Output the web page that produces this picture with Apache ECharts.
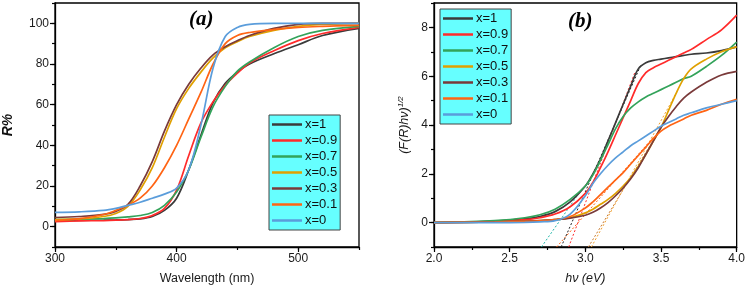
<!DOCTYPE html>
<html>
<head>
<meta charset="utf-8">
<script src="https://cdn.jsdelivr.net/npm/echarts@6/dist/echarts.min.js"></script>
<style>html,body{margin:0;padding:0;background:#fff}#c{width:748px;height:290px}</style>
</head>
<body>
<div id="c"></div>
<script>
// ---------- data ----------
const seriesNames = ['x=1', 'x=0.9', 'x=0.7', 'x=0.5', 'x=0.3', 'x=0.1', 'x=0'];

// Panel (a): reflectance vs wavelength
const wavelength = [300, 320, 340, 350, 360, 370, 380, 390, 400, 410, 420, 430, 440, 450, 460, 480, 500, 520, 550];
const R_x1   = [3, 3.1, 3.2, 3.3, 3.5, 3.8, 5, 8, 14, 28, 45, 61, 70.5, 76, 80, 85, 89.5, 94, 97.5];
const R_x09  = [2.5, 2.8, 3, 3.2, 3.5, 4, 5.5, 9, 18, 35, 51, 61.5, 69.5, 75.5, 80.5, 86.5, 91.5, 95, 98];
const R_x07  = [3.5, 3.7, 4, 4.3, 4.8, 5.5, 7, 10.5, 17, 28, 44, 59, 69, 76.5, 81, 88, 93.5, 96.5, 98.5];
const R_x05  = [3.5, 3.8, 5, 6.5, 10, 18, 29, 44, 58, 68, 76, 83, 88, 91, 93.5, 96.5, 98.5, 99.5, 100];
const R_x03  = [4.5, 5, 6, 7.5, 11, 20, 32, 47, 60, 70, 78, 84.5, 88.5, 91.5, 94, 97.5, 99.5, 100, 100];
const R_x01  = [3, 4, 6, 8, 10.5, 14, 20, 29, 40, 53, 66, 80, 90, 94, 95.5, 97, 98, 98.5, 99];
const R_x0   = [7, 7.3, 8, 9, 10.5, 12, 14, 16, 19, 28, 50, 78, 93.5, 98, 99.5, 100, 100, 100, 100];

// Panel (b): Kubelka-Munk (F(R)hv)^1/2 vs photon energy
const energy = [2.0, 2.2, 2.4, 2.6, 2.7, 2.8, 2.9, 3.0, 3.05, 3.1, 3.15, 3.2, 3.25, 3.3, 3.35, 3.4, 3.45, 3.5, 3.55, 3.6, 3.65, 3.7, 3.8, 3.9, 4.0];
const K_x1  = [0, 0.02, 0.06, 0.15, 0.25, 0.45, 0.85, 1.5, 2.0, 2.6, 3.35, 4.1, 4.85, 5.6, 6.3, 6.55, 6.65, 6.7, 6.75, 6.8, 6.85, 6.9, 6.95, 7.05, 7.2];
const K_x09 = [0, 0.02, 0.05, 0.12, 0.2, 0.35, 0.65, 1.2, 1.65, 2.25, 2.9, 3.6, 4.3, 5.0, 5.7, 6.15, 6.35, 6.5, 6.65, 6.8, 6.95, 7.1, 7.5, 7.9, 8.5];
const K_x07 = [0, 0.03, 0.08, 0.2, 0.32, 0.55, 0.95, 1.5, 1.95, 2.55, 3.2, 3.85, 4.35, 4.7, 4.95, 5.15, 5.3, 5.45, 5.6, 5.75, 5.9, 6.0, 6.4, 6.85, 7.4];
const K_x05 = [0, 0.01, 0.03, 0.06, 0.08, 0.12, 0.2, 0.4, 0.55, 0.75, 0.95, 1.2, 1.5, 1.85, 2.3, 2.8, 3.35, 3.9, 4.6, 5.3, 5.9, 6.3, 6.7, 7.0, 7.2];
const K_x03 = [0, 0.01, 0.03, 0.06, 0.08, 0.12, 0.18, 0.3, 0.42, 0.6, 0.82, 1.1, 1.42, 1.8, 2.25, 2.8, 3.35, 3.9, 4.35, 4.75, 5.1, 5.35, 5.75, 6.05, 6.2];
const K_x01 = [0, 0.01, 0.02, 0.05, 0.07, 0.12, 0.25, 0.6, 0.85, 1.15, 1.45, 1.75, 2.05, 2.4, 2.75, 3.1, 3.45, 3.75, 3.95, 4.1, 4.25, 4.4, 4.6, 4.85, 5.05];
const K_x0  = [0, 0, 0, 0.01, 0.03, 0.08, 0.35, 1.1, 1.6, 2.0, 2.35, 2.65, 2.9, 3.15, 3.35, 3.55, 3.75, 3.95, 4.1, 4.25, 4.4, 4.5, 4.7, 4.85, 5.0];

// Tangent (band-gap extrapolation) lines: [x, y] end points
const tan_teal  = [[2.71, -1], [2.98, 1.4]];
const tan_x01   = [[2.81, -1], [3.45, 3.5]];
const tan_x1    = [[2.84, -1], [3.37, 6.5]];
const tan_x09   = [[2.89, -1], [3.33, 6.2]];
const tan_x03   = [[3.02, -1], [3.5, 3.9]];
const tan_x05   = [[3.04, -1], [3.6, 5.3]];

// Tick labels (major ticks)
const xTicksA = [300, 400, 500];
const yTicksA = [0, 20, 40, 60, 80, 100];
const xTicksB = [2.0, 2.5, 3.0, 3.5, 4.0];
const yTicksB = [0, 2, 4, 6, 8];

// ---------- chart ----------
const colors = ['#3b3b3b', '#ff2b2b', '#33a35a', '#e0a000', '#7a3a3a', '#ff6414', '#5b9ddb'];
const Rsets = [R_x1, R_x09, R_x07, R_x05, R_x03, R_x01, R_x0];
const Ksets = [K_x1, K_x09, K_x07, K_x05, K_x03, K_x01, K_x0];
const zip = (xs, ys) => xs.map((x, i) => [x, ys[i]]);
const near = (v, arr) => arr.some(t => Math.abs(t - v) < 1e-6);

const FONT = 'Liberation Sans, Arial, sans-serif';
const axisCommon = {
  axisLine: {onZero: false, lineStyle: {color: '#000', width: 1.3}},
  axisTick: {inside: false, length: 3, lineStyle: {color: '#000', width: 1.2}},
  splitLine: {show: false},
  axisLabel: {color: '#1a1a1a', fontSize: 12, fontFamily: FONT}
};
// overlay axes carrying only the longer major ticks
const majorAxis = (gridIndex, min, max, vals, pos) => ({
  gridIndex, type: 'value', min, max, position: pos, offset: 0,
  axisLine: {show: false, onZero: false}, splitLine: {show: false}, axisLabel: {show: false},
  axisTick: {show: true, inside: false, length: 5, customValues: vals, lineStyle: {color: '#000', width: 1.2}}
});

const series = [];
seriesNames.forEach((n, i) => {
  series.push({
    name: n, type: 'line', xAxisIndex: 0, yAxisIndex: 0, showSymbol: false, symbol: 'none',
    smooth: 0.35, data: zip(wavelength, Rsets[i]),
    lineStyle: {color: colors[i], width: 1.7}, itemStyle: {color: colors[i]}, z: 3 + i
  });
});
const tangents = [
  [tan_teal, '#1fb5a8'], [tan_x01, '#ff6414'], [tan_x1, '#222222'],
  [tan_x09, '#ff2b2b'], [tan_x03, '#c87a30'], [tan_x05, '#f0a030']
];
tangents.forEach(([d, c]) => {
  series.push({
    type: 'line', xAxisIndex: 1, yAxisIndex: 1, showSymbol: false, symbol: 'none',
    data: d, lineStyle: {color: c, width: 1, type: [2, 2]}, z: 2, silent: true
  });
});
seriesNames.forEach((n, i) => {
  series.push({
    name: n, type: 'line', xAxisIndex: 1, yAxisIndex: 1, showSymbol: false, symbol: 'none',
    smooth: 0.35, data: zip(energy, Ksets[i]),
    lineStyle: {color: colors[i], width: 1.7}, itemStyle: {color: colors[i]}, z: 3 + i
  });
});

const legendCommon = {
  orient: 'vertical', data: seriesNames, icon: 'rect', itemWidth: 30, itemHeight: 2.5,
  itemGap: 3, padding: [3, 3, 3, 3], backgroundColor: '#66ffff', borderColor: '#444', borderWidth: 1,
  borderRadius: 0, textStyle: {fontSize: 13, fontFamily: FONT, color: '#111', padding: [0, 0, 0, -2]},
  selectedMode: false
};

const option = {
  animation: false,
  backgroundColor: '#fff',
  title: [
    {text: '(a)', left: 184, top: 4, textStyle: {fontFamily: 'Liberation Serif, Times New Roman, serif', fontStyle: 'italic', fontWeight: 'bold', fontSize: 21, color: '#000'}},
    {text: '(b)', left: 563, top: 6, textStyle: {fontFamily: 'Liberation Serif, Times New Roman, serif', fontStyle: 'italic', fontWeight: 'bold', fontSize: 21, color: '#000'}}
  ],
  legend: [
    Object.assign({left: 269, top: 115}, legendCommon),
    Object.assign({left: 440, top: 9}, legendCommon)
  ],
  grid: [
    {left: 52, top: 3, width: 307, height: 246, show: true, borderColor: '#000', borderWidth: 1.3, backgroundColor: 'transparent'},
    {left: 434, top: 3, width: 304, height: 246, show: true, borderColor: '#000', borderWidth: 1.3, backgroundColor: 'transparent'}
  ],
  xAxis: [
    Object.assign({}, axisCommon, {
      gridIndex: 0, type: 'value', min: 300, max: 550, interval: 50, position: 'bottom',
      name: 'Wavelength (nm)', nameLocation: 'middle', nameGap: 25,
      nameTextStyle: {fontSize: 12.5, fontFamily: FONT, color: '#1a1a1a'},
      axisLabel: Object.assign({}, axisCommon.axisLabel, {margin: 6, formatter: v => near(v, xTicksA) ? String(v) : ''})
    }),
    Object.assign({}, axisCommon, {
      gridIndex: 1, type: 'value', min: 2, max: 4, interval: 0.25, position: 'bottom',
      name: 'hν (eV)', nameLocation: 'middle', nameGap: 25,
      nameTextStyle: {fontSize: 12.5, fontFamily: FONT, fontStyle: 'italic', color: '#1a1a1a'},
      axisLabel: Object.assign({}, axisCommon.axisLabel, {margin: 6, formatter: v => near(v, xTicksB) ? v.toFixed(1) : ''})
    }),
    majorAxis(0, 300, 550, xTicksA, 'bottom'),
    majorAxis(1, 2, 4, xTicksB, 'bottom')
  ],
  yAxis: [
    Object.assign({}, axisCommon, {
      gridIndex: 0, type: 'value', min: -10, max: 110, interval: 10, position: 'left',
      name: 'R%', nameLocation: 'middle', nameGap: 40,
      nameTextStyle: {fontSize: 14, fontFamily: FONT, fontStyle: 'italic', fontWeight: 'bold', color: '#111'},
      axisLabel: Object.assign({}, axisCommon.axisLabel, {margin: 6, formatter: v => near(v, yTicksA) ? String(v) : ''})
    }),
    Object.assign({}, axisCommon, {
      gridIndex: 1, type: 'value', min: -1, max: 9, interval: 1, position: 'left',
      name: '{a|(F(R)hν)}{s|1/2}', nameLocation: 'middle', nameGap: 22,
      nameTextStyle: {
        rich: {
          a: {fontSize: 12.5, fontFamily: FONT, fontStyle: 'italic', color: '#1a1a1a'},
          s: {fontSize: 8, fontFamily: FONT, fontStyle: 'italic', color: '#1a1a1a', padding: [0, 0, 7, 0]}
        }
      },
      axisLabel: Object.assign({}, axisCommon.axisLabel, {margin: 6, formatter: v => near(v, yTicksB) ? String(v) : ''})
    }),
    majorAxis(0, -10, 110, yTicksA, 'left'),
    majorAxis(1, -1, 9, yTicksB, 'left')
  ],
  series: series
};

const chart = echarts.init(document.getElementById('c'), null, {renderer: 'canvas'});
chart.setOption(option);
</script>
</body>
</html>
